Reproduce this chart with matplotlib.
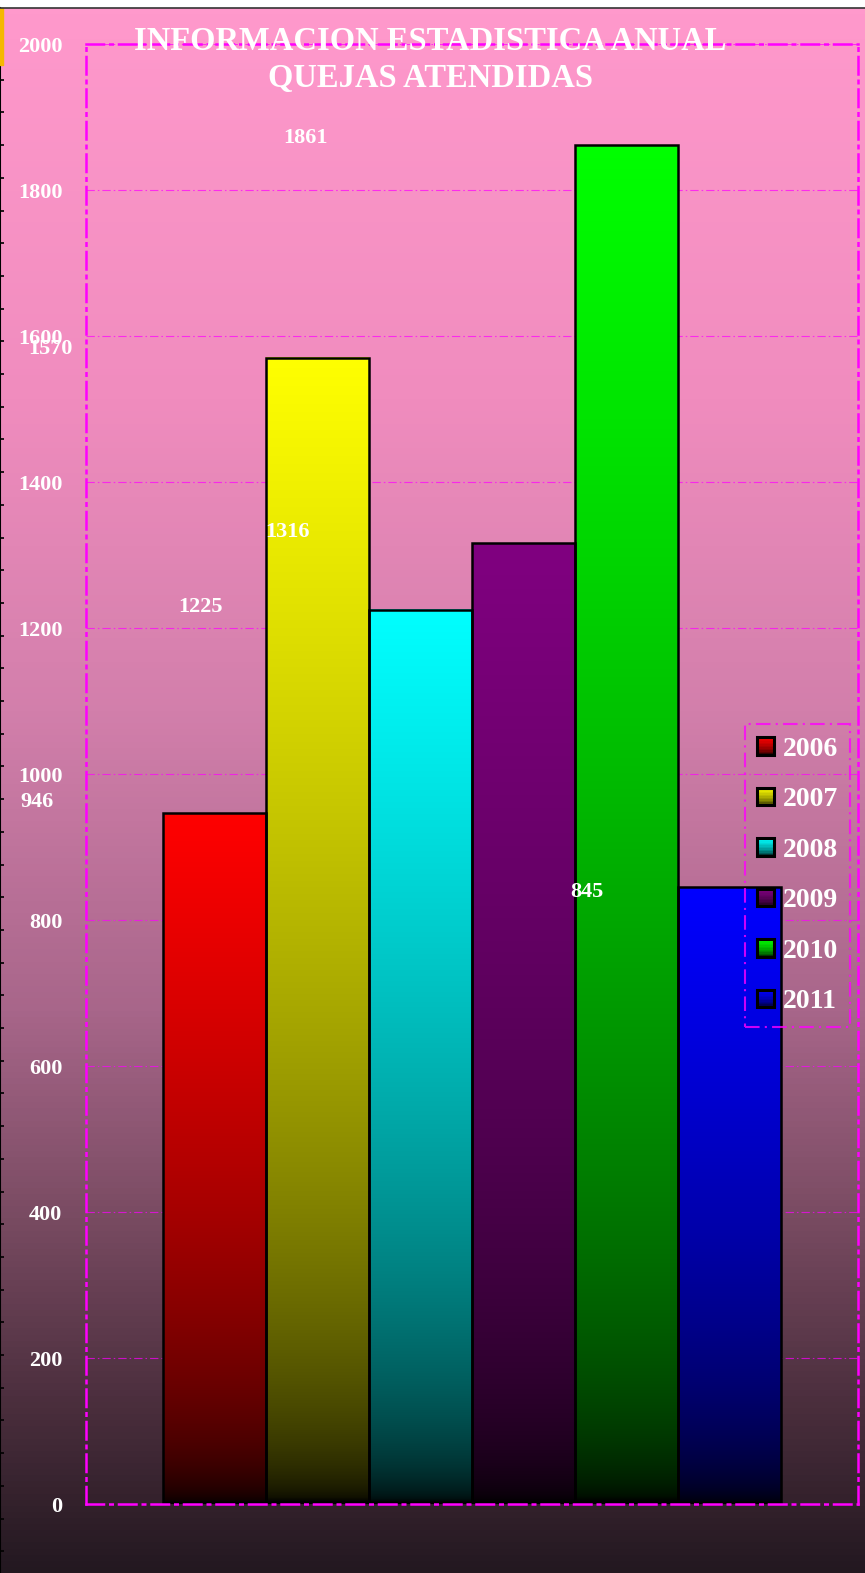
import numpy as np
import matplotlib
matplotlib.use("Agg")
from matplotlib import pyplot as plt
from matplotlib.patches import Rectangle, Patch
from matplotlib.legend_handler import HandlerBase
from matplotlib.colors import LinearSegmentedColormap, to_rgb

# data
years = ['2006', '2007', '2008', '2009', '2010', '2011']
quejas = [946, 1570, 1225, 1316, 1861, 845]
bar_colors = ['#FF0000', '#FFFF00', '#00FFFF', '#800080', '#00FF00', '#0000FF']
y_ticks = [0, 200, 400, 600, 800, 1000, 1200, 1400, 1600, 1800, 2000]

# where the (misplaced) data labels sit, in data units
label_x = [-1.73, -1.60, -0.14, 0.71, 0.88, 3.62]
label_dy = [15, 12, 4, 15, 10, -6]

W, H = 865, 1573
fig = plt.figure(figsize=(W / 100, H / 100), dpi=100, facecolor='white')

# background gradient (pink to dark)
bg = fig.add_axes([0, 0, 1, 1565 / H], zorder=-5)
bg_cmap = LinearSegmentedColormap.from_list('bg', [
    (0.0, '#231820'), (0.11, '#4C2F3E'), (0.24, '#7E4E66'),
    (0.36, '#A8668A'), (0.55, '#D27FAB'), (0.75, '#F08CBE'), (1.0, '#FF99CC')])
grad = np.linspace(0, 1, 512).reshape(-1, 1)
bg.imshow(grad, cmap=bg_cmap, aspect='auto', origin='lower', extent=[0, 1, 0, 1])
bg.set_axis_off()
fig.add_artist(plt.Line2D([0, 1], [1565 / H, 1565 / H], color='#333333', lw=1.2))

# left edge line with little ticks
edge = fig.add_axes([0, 0, 3 / W, 1565 / H], zorder=-4)
edge.patch.set_visible(False)
for s in ['top', 'right', 'bottom']:
    edge.spines[s].set_visible(False)
edge.spines['left'].set_linewidth(1.5)
edge.set_ylim(1565, 0)
edge.set_yticks(np.arange(333.3 - 32.7 * 10, 1565, 32.7))
edge.tick_params(axis='y', direction='in', length=3, width=1.2, labelleft=False)
edge.set_xticks([])
fig.add_artist(Rectangle((0, 1 - 65 / H), 3 / W, 57 / H, color='#F5B800',
                         transform=fig.transFigure))

# main chart
ax = fig.add_axes([86 / W, 69 / H, 772 / W, 1460 / H])
ax.patch.set_visible(False)
x = np.arange(len(years))

def fade(color, n=256):
    s = np.linspace(0, 1, n) ** 0.5
    return s[:, None, None] * np.array(to_rgb(color))[None, None, :]

for i, (v, c) in enumerate(zip(quejas, bar_colors)):
    ax.imshow(fade(c), origin='lower', aspect='auto', zorder=2,
              extent=[i - 0.5, i + 0.5, 0, v], interpolation='bilinear')
ax.bar(x, quejas, width=1.0, fill=False, edgecolor='black', linewidth=1.8, zorder=3)

for i, v in enumerate(quejas):
    ax.text(label_x[i], v + label_dy[i], str(v), color='white', fontsize=16,
            fontweight='bold', family='Liberation Serif', ha='center', va='center',
            clip_on=False, zorder=5)

ax.set_xlim(-1.25, 6.25)
ax.set_ylim(0, 2000)
ax.set_yticks(y_ticks)
ax.set_yticklabels([str(t) for t in y_ticks], color='white', fontsize=16,
                   fontweight='bold', family='Liberation Serif')
ax.tick_params(axis='y', length=0, pad=17)
ax.set_xticks([])
ax.set_axisbelow(True)
ax.yaxis.grid(True, color='#FF00FF', linewidth=0.8, alpha=0.7,
              linestyle=(0, (7.5, 2.7, 1.4, 2.7)))
for s in ax.spines.values():
    s.set_color('#FF00FF')
    s.set_linewidth(1.8)
    s.set_linestyle((0, (7, 2.5, 1, 2.5)))
    s.set_zorder(4)

fig.text(430 / W, 1 - 60 / H, 'INFORMACION ESTADISTICA ANUAL\nQUEJAS ATENDIDAS',
         ha='center', va='center', color='white', fontsize=23.5, fontweight='bold',
         family='Liberation Serif', linespacing=1.25)


class GradHandler(HandlerBase):
    def create_artists(self, legend, orig_handle, xdescent, ydescent, width,
                       height, fontsize, trans):
        col = np.array(orig_handle.get_facecolor()[:3])
        arts = []
        n = 12
        for k in range(n):
            f = ((k + 0.5) / n) ** 0.5
            arts.append(Rectangle((-xdescent, -ydescent + height * k / n), width,
                                  height / n, facecolor=col * f, edgecolor='none',
                                  transform=trans))
        arts.append(Rectangle((-xdescent, -ydescent), width, height, facecolor='none',
                              edgecolor='black', linewidth=2.2, transform=trans))
        return arts


handles = [Patch(facecolor=c, label=y) for c, y in zip(bar_colors, years)]
leg = ax.legend(handles=handles, loc='center', bbox_to_anchor=(797.5 / W, 1 - 875.5 / H),
                bbox_transform=fig.transFigure, handler_map={Patch: GradHandler()},
                prop={'family': 'Liberation Serif', 'weight': 'bold', 'size': 20},
                labelcolor='white', frameon=True, fancybox=False,
                handlelength=0.6, handleheight=0.6, handletextpad=0.3,
                labelspacing=0.92, borderpad=0.45)
frame = leg.get_frame()
frame.set_facecolor('none')
frame.set_edgecolor('#FF00FF')
frame.set_linewidth(1.5)
frame.set_linestyle((0, (7, 2.5, 1, 2.5)))
leg.set_zorder(6)

fig.savefig('out.png', dpi=100, facecolor='white')
